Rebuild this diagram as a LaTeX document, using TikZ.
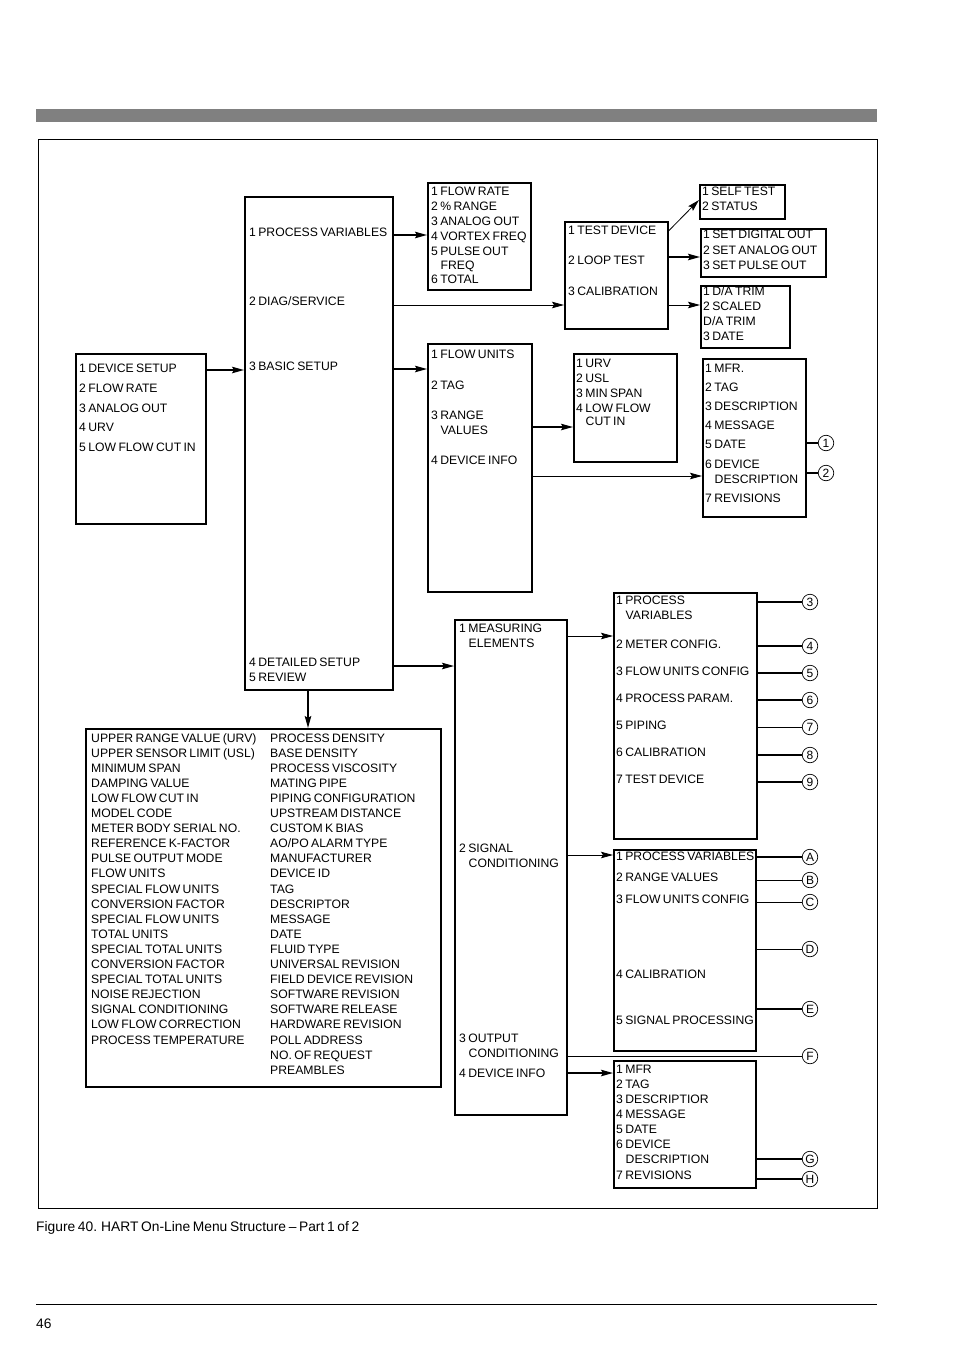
\documentclass[tikz,border=0pt]{standalone}
\usepackage{fontspec}
\setmainfont{Liberation Sans}[WordSpace=0.7]
\usepackage{tikz}
\usetikzlibrary{arrows.meta, positioning}
\definecolor{bargray}{RGB}{128,128,128}
\newcommand{\ind}{\hspace*{9.5pt}}
\tikzset{
	menubox/.style={
		draw,
		line width=1.5pt,
		anchor=north west,
		inner sep=0,
	},
	item/.style={
		anchor=base west,
		inner sep=0,
		font=\fontsize{12.2}{15}\selectfont
	},
	tagmark/.style={
		draw, circle,
		line width=0.7pt,
		minimum size=15.5,
		inner sep=0,
		font=\fontsize{12}{12}\selectfont
	},
	heavy/.style={line width=1.6pt},
	light/.style={line width=0.8pt},
	arr/.style={-{Stealth[length=12pt, width=6.5pt, inset=2pt]}},
	pagetext/.style={anchor=base west, inner sep=0, font=\fontsize{13.8}{16}\selectfont},
}

\begin{document}
\begin{tikzpicture}[x=1pt, y=-1pt]
		\useasboundingbox (0,0) rectangle (954,1349);
		% page decoration
		\fill[bargray] (36,109) rectangle (877,122);
		\draw[line width=0.8pt] (38,139) rectangle (877,1208);
		\draw[line width=0.8pt] (36,1304) -- (877,1304);
		\node(caption)[pagetext] at (36,1231) {Figure 40. HART On-Line Menu Structure – Part 1 of 2};
		\node(pageno)[pagetext] at (36,1328) {46};
		
		% menu boxes
		\node(devsetup)[menubox, minimum width=130, minimum height=170] at (75,353) {};
		\node(main)[menubox, minimum width=148, minimum height=493] at (244,196) {};
		\node(pv)[menubox, minimum width=103, minimum height=107] at (427,182) {};
		\node(test)[menubox, minimum width=103, minimum height=107] at (564,221) {};
		\node(selftest)[menubox, minimum width=85, minimum height=34] at (699,184) {};
		\node(setout)[menubox, minimum width=125, minimum height=48] at (700,228) {};
		\node(datrim)[menubox, minimum width=89, minimum height=62] at (700,285) {};
		\node(basic)[menubox, minimum width=104, minimum height=248] at (427,343) {};
		\node(range)[menubox, minimum width=103, minimum height=108] at (573,353) {};
		\node(devinfo)[menubox, minimum width=103, minimum height=158] at (702,358) {};
		\node(review)[menubox, minimum width=355, minimum height=358] at (85,728) {};
		\node(detail)[menubox, minimum width=112, minimum height=495] at (454,619) {};
		\node(meas)[menubox, minimum width=143, minimum height=246] at (613,592) {};
		\node(signal)[menubox, minimum width=142, minimum height=201] at (613,849) {};
		\node(mfr)[menubox, minimum width=142, minimum height=127] at (613,1060) {};
		
		% menu entries
		\foreach \i/\y/\t in {1/372/{1 DEVICE SETUP}, 2/392/{2 FLOW RATE}, 3/412/{3 ANALOG OUT}, 4/431/{4 URV}, 5/451/{5 LOW FLOW CUT IN}}
			\node(ds\i)[item] at (79,\y) {\t};
		\foreach \i/\y/\t in {1/236/{1 PROCESS VARIABLES}, 2/305/{2 DIAG/SERVICE}, 3/370/{3 BASIC SETUP}, 4/666/{4 DETAILED SETUP}, 5/681/{5 REVIEW}}
			\node(mn\i)[item] at (249,\y) {\t};
		\foreach \i/\y/\t in {1/195/{1 FLOW RATE}, 2/210/{2 \% RANGE}, 3/225/{3 ANALOG OUT}, 4/240/{4 VORTEX FREQ}, 5/255/{5 PULSE OUT}, 6/269/{\ind FREQ}, 7/283/{6 TOTAL}}
			\node(pv\i)[item] at (431,\y) {\t};
		\foreach \i/\y/\t in {1/234/{1 TEST DEVICE}, 2/264/{2 LOOP TEST}, 3/295/{3 CALIBRATION}}
			\node(ts\i)[item] at (568,\y) {\t};
		\foreach \i/\y/\t in {1/195/{1 SELF TEST}, 2/210/{2 STATUS}}
			\node(st\i)[item] at (702,\y) {\t};
		\foreach \i/\y/\t in {1/238/{1 SET DIGITAL OUT}, 2/254/{2 SET ANALOG OUT}, 3/269/{3 SET PULSE OUT}}
			\node(so\i)[item] at (703,\y) {\t};
		\foreach \i/\y/\t in {1/295/{1 D/A TRIM}, 2/310/{2 SCALED}, 3/325/{D/A TRIM}, 4/340/{3 DATE}}
			\node(da\i)[item] at (703,\y) {\t};
		\foreach \i/\y/\t in {1/358/{1 FLOW UNITS}, 2/389/{2 TAG}, 3/419/{3 RANGE}, 4/434/{\ind VALUES}, 5/464/{4 DEVICE INFO}}
			\node(bs\i)[item] at (431,\y) {\t};
		\foreach \i/\y/\t in {1/367/{1 URV}, 2/382/{2 USL}, 3/397/{3 MIN SPAN}, 4/412/{4 LOW FLOW}, 5/425/{\ind CUT IN}}
			\node(rg\i)[item] at (576,\y) {\t};
		\foreach \i/\y/\t in {1/372/{1 MFR.}, 2/391/{2 TAG}, 3/410/{3 DESCRIPTION}, 4/429/{4 MESSAGE}, 5/448/{5 DATE}, 6/468/{6 DEVICE}, 7/483/{\ind DESCRIPTION}, 8/502/{7 REVISIONS}}
			\node(di\i)[item] at (705,\y) {\t};
		\foreach \i/\y/\t in {1/632/{1 MEASURING}, 2/647/{\ind ELEMENTS}, 3/852/{2 SIGNAL}, 4/867/{\ind CONDITIONING}, 5/1042/{3 OUTPUT}, 6/1057/{\ind CONDITIONING}, 7/1077/{4 DEVICE INFO}}
			\node(dt\i)[item] at (459,\y) {\t};
		\foreach \i/\y/\t in {1/604/{1 PROCESS}, 2/619/{\ind VARIABLES}, 3/648/{2 METER CONFIG.}, 4/675/{3 FLOW UNITS CONFIG}, 5/702/{4 PROCESS PARAM.}, 6/729/{5 PIPING}, 7/756/{6 CALIBRATION}, 8/783/{7 TEST DEVICE}}
			\node(ms\i)[item] at (616,\y) {\t};
		\foreach \i/\y/\t in {1/860/{1 PROCESS VARIABLES}, 2/881/{2 RANGE VALUES}, 3/903/{3 FLOW UNITS CONFIG}, 4/978/{4 CALIBRATION}, 5/1024/{5 SIGNAL PROCESSING}}
			\node(sg\i)[item] at (616,\y) {\t};
		\foreach \i/\y/\t in {1/1073/{1 MFR}, 2/1088/{2 TAG}, 3/1103/{3 DESCRIPTIOR}, 4/1118/{4 MESSAGE}, 5/1133/{5 DATE}, 6/1148/{6 DEVICE}, 7/1163/{\ind DESCRIPTION}, 8/1179/{7 REVISIONS}}
			\node(mf\i)[item] at (616,\y) {\t};
		
		% review list, two columns
		\foreach \t [count=\i from 0] in {UPPER RANGE VALUE (URV), UPPER SENSOR LIMIT (USL), MINIMUM SPAN, DAMPING VALUE, LOW FLOW CUT IN, MODEL CODE, METER BODY SERIAL NO., REFERENCE K-FACTOR, PULSE OUTPUT MODE, FLOW UNITS, SPECIAL FLOW UNITS, CONVERSION FACTOR, SPECIAL FLOW UNITS, TOTAL UNITS, SPECIAL TOTAL UNITS, CONVERSION FACTOR, SPECIAL TOTAL UNITS, NOISE REJECTION, SIGNAL CONDITIONING, LOW FLOW CORRECTION, PROCESS TEMPERATURE}
			\node(rl\i)[item] at (91,{742+15.1*\i}) {\t};
		\foreach \t [count=\i from 0] in {PROCESS DENSITY, BASE DENSITY, PROCESS VISCOSITY, MATING PIPE, PIPING CONFIGURATION, UPSTREAM DISTANCE, CUSTOM K BIAS, AO/PO ALARM TYPE, MANUFACTURER, DEVICE ID, TAG, DESCRIPTOR, MESSAGE, DATE, FLUID TYPE, UNIVERSAL REVISION, FIELD DEVICE REVISION, SOFTWARE REVISION, SOFTWARE RELEASE, HARDWARE REVISION, POLL ADDRESS, NO. OF REQUEST, PREAMBLES}
			\node(rr\i)[item] at (270,{742+15.1*\i}) {\t};
		
		% connectors
		\draw[arr, heavy] (devsetup.east |- 0,370) -- (main.west |- 0,370);
		\draw[arr, heavy] (main.east |- 0,235) -- (pv.west |- 0,235);
		\draw[arr, light] (main.east |- 0,305) -- (test.west |- 0,305);
		\draw[arr, heavy] (main.east |- 0,369) -- (basic.west |- 0,369);
		\draw[arr, heavy] (main.east |- 0,666) -- (detail.west |- 0,666);
		\draw[arr, heavy] (main.south -| 308,0) -- (review.north -| 308,0);
		\draw[arr, light] (test.east |- 0,231) -- (selftest.west |- 0,200);
		\draw[arr, heavy] (test.east |- 0,257) -- (setout.west |- 0,257);
		\draw[arr, light] (test.east |- 0,305) -- (datrim.west |- 0,305);
		\draw[arr, heavy] (basic.east |- 0,427) -- (range.west |- 0,427);
		\draw[arr, light] (basic.east |- 0,476) -- (devinfo.west |- 0,476);
		\draw[arr, light] (detail.east |- 0,636) -- (meas.west |- 0,636);
		\draw[arr, light] (detail.east |- 0,855) -- (signal.west |- 0,855);
		\draw[arr, heavy] (detail.east |- 0,1073) -- (mfr.west |- 0,1073);
		
		% continuation marks
		\foreach \n/\y/\w in {1/443/heavy, 2/473/heavy} {
			\node(tag\n)[tagmark] at (826,\y) {\n};
			\draw[\w] (devinfo.east |- tag\n) -- (tag\n);
		}
		\foreach \n/\y/\w in {3/602/heavy, 4/646/heavy, 5/673/heavy, 6/700/heavy, 7/727/light, 8/755/heavy, 9/782/heavy} {
			\node(tag\n)[tagmark] at (810,\y) {\n};
			\draw[\w] (meas.east |- tag\n) -- (tag\n);
		}
		\foreach \n/\y/\w in {A/857/heavy, B/880/light, C/902/light, D/949/light, E/1009/heavy} {
			\node(tag\n)[tagmark] at (810,\y) {\n};
			\draw[\w] (signal.east |- tag\n) -- (tag\n);
		}
		\node(tagF)[tagmark] at (810,1056) {F};
		\draw[light] (detail.east |- tagF) -- (tagF);
		\foreach \n/\y/\w in {G/1159/heavy, H/1179/heavy} {
			\node(tag\n)[tagmark] at (810,\y) {\n};
			\draw[\w] (mfr.east |- tag\n) -- (tag\n);
		}
\end{tikzpicture}
\end{document}
